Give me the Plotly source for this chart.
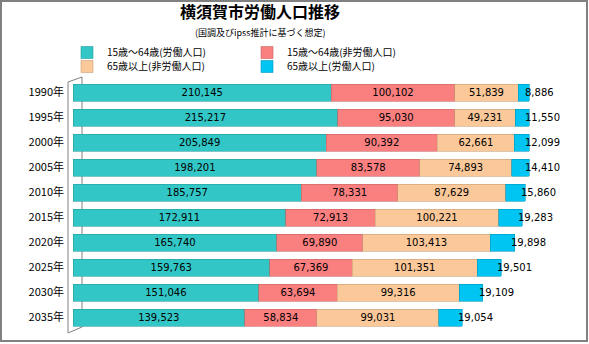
import plotly.graph_objects as go

years = ["1990年", "1995年", "2000年", "2005年", "2010年", "2015年", "2020年", "2025年", "2030年", "2035年"]
labor_15_64 = [210145, 215217, 205849, 198201, 185757, 172911, 165740, 159763, 151046, 139523]
nonlabor_15_64 = [100102, 95030, 90392, 83578, 78331, 72913, 69890, 67369, 63694, 58834]
nonlabor_65 = [51839, 49231, 62661, 74893, 87629, 100221, 103413, 101351, 99316, 99031]
labor_65 = [8886, 11550, 12099, 14410, 15860, 19283, 19898, 19501, 19109, 19054]

names = ["15歳～64歳(労働人口)", "15歳～64歳(非労働人口)", "65歳以上(非労働人口)", "65歳以上(労働人口)"]
colors = ["#33C6C6", "#FA7F7F", "#FBC999", "#00C4F2"]
lines = ["#2A9E9E", "#C86464", "#C9A07A", "#0098BC"]
legend_ids = ["legend", "legend", "legend2", "legend2"]

NUM_FONT = dict(family="DejaVu Sans", size=10, color="black")
JP = "Noto Sans CJK JP"

fig = go.Figure()
series = [labor_15_64, nonlabor_15_64, nonlabor_65, labor_65]
for i, vals in enumerate(series):
    fig.add_trace(go.Bar(
        y=years, x=vals, orientation="h", name=names[i],
        marker=dict(color=colors[i], line=dict(color=lines[i], width=0.6)),
        text=[f"{v:,}" for v in vals] if i < 3 else None,
        textposition="inside" if i < 3 else "none",
        insidetextanchor="middle",
        textfont=NUM_FONT,
        width=0.68,
        legend=legend_ids[i],
    ))

totals = [a + b + c + d for a, b, c, d in zip(*series)]


def px(xp):
    return (xp - 73) / 492


def py(yp):
    return (330 - yp) / 250


annotations = []
for y, t, v in zip(years, totals, labor_65):
    annotations.append(dict(x=t, y=y, xref="x", yref="y", text=f"{v:,}", showarrow=False,
                            xanchor="left", xshift=-6, font=NUM_FONT))

annotations.append(dict(x=px(260), y=py(24), xref="paper", yref="paper", xanchor="center", yanchor="bottom",
                        text="<b>横須賀市労働人口推移</b>", showarrow=False, borderpad=0,
                        font=dict(family=JP, size=16, color="black")))
annotations.append(dict(x=px(260), y=py(24.5), xref="paper", yref="paper", xanchor="center", yanchor="top",
                        text="(国調及びipss推計に基づく想定)", showarrow=False, borderpad=0,
                        font=dict(family=JP, size=9, color="black")))

gray = "#808080"
shapes = [
    dict(type="line", xref="paper", yref="paper", x0=px(68), y0=py(82), x1=px(68), y1=py(333), line=dict(color=gray, width=1), layer="below"),
    dict(type="line", xref="paper", yref="paper", x0=px(82), y0=py(77), x1=px(82), y1=py(327), line=dict(color=gray, width=1), layer="below"),
    dict(type="line", xref="paper", yref="paper", x0=px(68), y0=py(82), x1=px(82), y1=py(77), line=dict(color=gray, width=1), layer="below"),
    dict(type="line", xref="paper", yref="paper", x0=px(68), y0=py(333), x1=px(82), y1=py(327), line=dict(color=gray, width=1), layer="below"),
    dict(type="rect", xref="paper", yref="paper", x0=px(1), y0=py(341), x1=px(587), y1=py(1), line=dict(color=gray, width=2), layer="above"),
]

legend_common = dict(orientation="h", xanchor="left", yanchor="top",
                     entrywidth=135, entrywidthmode="pixels",
                     font=dict(family=JP, size=10, color="black"),
                     traceorder="normal", itemwidth=30, bgcolor="rgba(0,0,0,0)")

fig.update_layout(
    width=589, height=344,
    margin=dict(l=73, r=24, t=80, b=14),
    barmode="stack",
    paper_bgcolor="white", plot_bgcolor="white",
    showlegend=True,
    legend=dict(x=px(67), y=py(38), **legend_common),
    legend2=dict(x=px(67), y=py(52), **legend_common),
    xaxis=dict(range=[0, 400000], visible=False, fixedrange=True),
    yaxis=dict(categoryorder="array", categoryarray=years, autorange="reversed",
               showgrid=False, zeroline=False, showline=False, ticks="",
               ticklabelstandoff=8,
               tickfont=dict(family=JP, size=11, color="black")),
    annotations=annotations,
    shapes=shapes,
    uniformtext=dict(minsize=8, mode="show"),
)

fig.write_html("out.html")
